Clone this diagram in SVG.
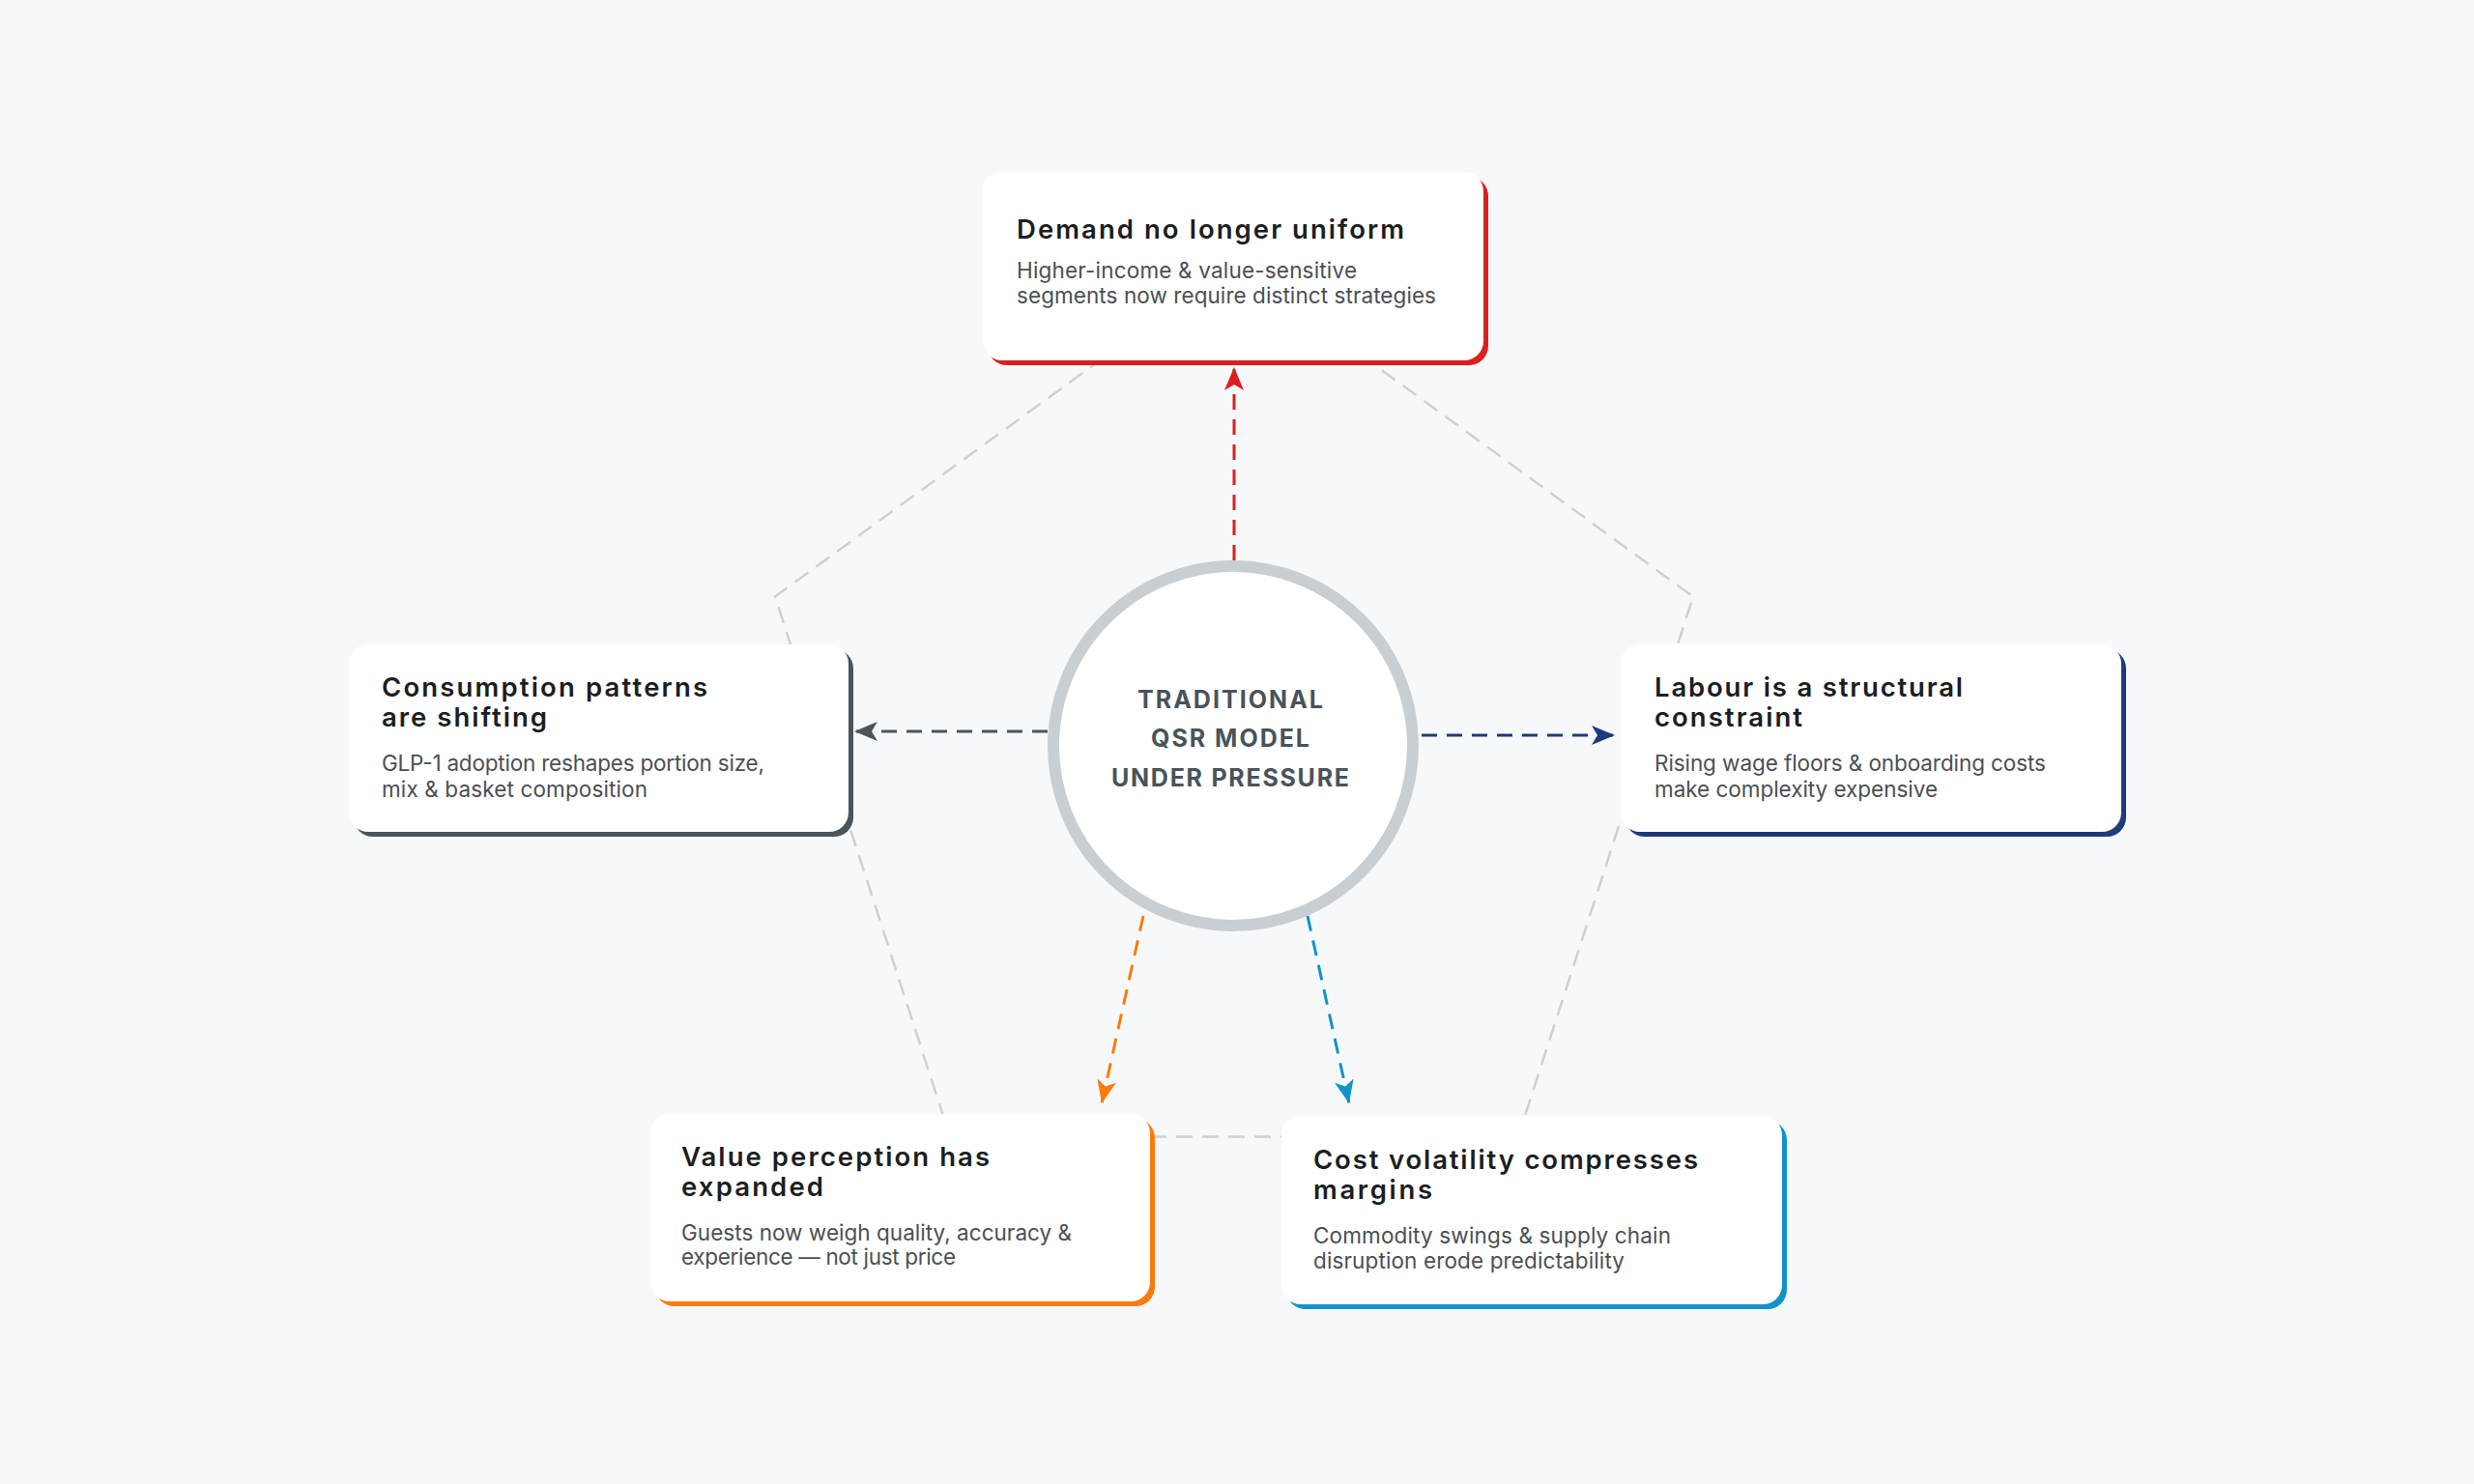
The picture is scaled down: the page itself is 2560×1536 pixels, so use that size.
<svg xmlns="http://www.w3.org/2000/svg" width="2560" height="1536" viewBox="0 0 2560 1536">
<defs>
<style>
.bg{fill:#f7f8fa}
.card{fill:#ffffff}
.title{font-family:Inter,"Liberation Sans",sans-serif;font-weight:600;font-size:27.5px;fill:#1b1e22}
.desc{font-family:Inter,"Liberation Sans",sans-serif;font-weight:400;font-size:22.5px;fill:#4b4f55}
.ctr{font-family:Inter,"Liberation Sans",sans-serif;font-weight:700;font-size:25px;fill:#48535b;text-anchor:middle}
.pent{fill:none;stroke:#cdd0d5;stroke-width:2.5;stroke-dasharray:17 10}
.conn{fill:none;stroke-width:3;stroke-dasharray:16 10}
</style>
<marker id="mRed" markerUnits="userSpaceOnUse" viewBox="0 0 24 20" markerWidth="24" markerHeight="20" refX="24" refY="10" orient="auto"><path d="M0,0 L24,10 L0,20 L6,10 Z" fill="#dc2020"/></marker>
<marker id="mGray" markerUnits="userSpaceOnUse" viewBox="0 0 24 20" markerWidth="24" markerHeight="20" refX="24" refY="10" orient="auto"><path d="M0,0 L24,10 L0,20 L6,10 Z" fill="#4a555c"/></marker>
<marker id="mNavy" markerUnits="userSpaceOnUse" viewBox="0 0 24 20" markerWidth="24" markerHeight="20" refX="24" refY="10" orient="auto"><path d="M0,0 L24,10 L0,20 L6,10 Z" fill="#1f3a7c"/></marker>
<marker id="mOrange" markerUnits="userSpaceOnUse" viewBox="0 0 24 20" markerWidth="24" markerHeight="20" refX="24" refY="10" orient="auto"><path d="M0,0 L24,10 L0,20 L6,10 Z" fill="#f97c0c"/></marker>
<marker id="mBlue" markerUnits="userSpaceOnUse" viewBox="0 0 24 20" markerWidth="24" markerHeight="20" refX="24" refY="10" orient="auto"><path d="M0,0 L24,10 L0,20 L6,10 Z" fill="#1193c9"/></marker>
</defs>
<rect class="bg" x="0" y="0" width="2560" height="1536"/>

<g id="frame">
<polygon class="pent" points="1277,272 1752,617.5 1571,1176.5 983,1176.5 802,617.5"/>
</g>

<g id="connectors">
<line class="conn" stroke="#dc2020" x1="1277" y1="580" x2="1277" y2="380" marker-end="url(#mRed)"/>
<line class="conn" stroke="#4a555c" x1="1084" y1="757" x2="884" y2="757" marker-end="url(#mGray)"/>
<line class="conn" stroke="#1f3a7c" x1="1471" y1="761" x2="1671" y2="761" marker-end="url(#mNavy)"/>
<line class="conn" stroke="#f97c0c" x1="1183" y1="948" x2="1140" y2="1142" marker-end="url(#mOrange)"/>
<line class="conn" stroke="#1193c9" x1="1353" y1="948" x2="1396" y2="1142" marker-end="url(#mBlue)"/>
</g>

<g id="center">
<circle cx="1276" cy="772" r="186" fill="#ffffff" stroke="#c9ced2" stroke-width="12"/>
<text class="ctr" x="1273" y="733" textLength="192" lengthAdjust="spacing">TRADITIONAL</text>
<text class="ctr" x="1273" y="773" textLength="164" lengthAdjust="spacing">QSR MODEL</text>
<text class="ctr" x="1273" y="814" textLength="246" lengthAdjust="spacing">UNDER PRESSURE</text>
</g>

<g id="card-demand">
<rect x="1022" y="183" width="518" height="195" rx="20" fill="#dc2020"/>
<rect class="card" x="1017" y="178" width="518" height="195" rx="20"/>
<text class="title" x="1052" y="247" textLength="401" lengthAdjust="spacing">Demand no longer uniform</text>
<text class="desc" x="1052" y="288" textLength="352" lengthAdjust="spacing">Higher-income &amp; value-sensitive</text>
<text class="desc" x="1052" y="314" textLength="434" lengthAdjust="spacing">segments now require distinct strategies</text>
</g>

<g id="card-consumption">
<rect x="366" y="672" width="517" height="194" rx="20" fill="#4a555c"/>
<rect class="card" x="361" y="667" width="517" height="194" rx="20"/>
<text class="title" x="395" y="721" textLength="337" lengthAdjust="spacing">Consumption patterns</text>
<text class="title" x="395" y="752" textLength="171" lengthAdjust="spacing">are shifting</text>
<text class="desc" x="395" y="798" textLength="396" lengthAdjust="spacing">GLP-1 adoption reshapes portion size,</text>
<text class="desc" x="395" y="825" textLength="275" lengthAdjust="spacing">mix &amp; basket composition</text>
</g>

<g id="card-labour">
<rect x="1682" y="672" width="518" height="194" rx="20" fill="#1f3a7c"/>
<rect class="card" x="1677" y="667" width="518" height="194" rx="20"/>
<text class="title" x="1712" y="721" textLength="319" lengthAdjust="spacing">Labour is a structural</text>
<text class="title" x="1712" y="752" textLength="153" lengthAdjust="spacing">constraint</text>
<text class="desc" x="1712" y="798" textLength="405" lengthAdjust="spacing">Rising wage floors &amp; onboarding costs</text>
<text class="desc" x="1712" y="825" textLength="293" lengthAdjust="spacing">make complexity expensive</text>
</g>

<g id="card-value">
<rect x="678" y="1158" width="517" height="194" rx="20" fill="#f97c0c"/>
<rect class="card" x="673" y="1153" width="517" height="194" rx="20"/>
<text class="title" x="705" y="1207" textLength="319" lengthAdjust="spacing">Value perception has</text>
<text class="title" x="705" y="1238" textLength="147" lengthAdjust="spacing">expanded</text>
<text class="desc" x="705" y="1284" textLength="404" lengthAdjust="spacing">Guests now weigh quality, accuracy &amp;</text>
<text class="desc" x="705" y="1309" textLength="284" lengthAdjust="spacing">experience — not just price</text>
</g>

<g id="card-cost">
<rect x="1331" y="1160" width="518" height="195" rx="20" fill="#1193c9"/>
<rect class="card" x="1326" y="1155" width="518" height="195" rx="20"/>
<text class="title" x="1359" y="1210" textLength="398" lengthAdjust="spacing">Cost volatility compresses</text>
<text class="title" x="1359" y="1241" textLength="123" lengthAdjust="spacing">margins</text>
<text class="desc" x="1359" y="1287" textLength="370" lengthAdjust="spacing">Commodity swings &amp; supply chain</text>
<text class="desc" x="1359" y="1313" textLength="322" lengthAdjust="spacing">disruption erode predictability</text>
</g>
</svg>
